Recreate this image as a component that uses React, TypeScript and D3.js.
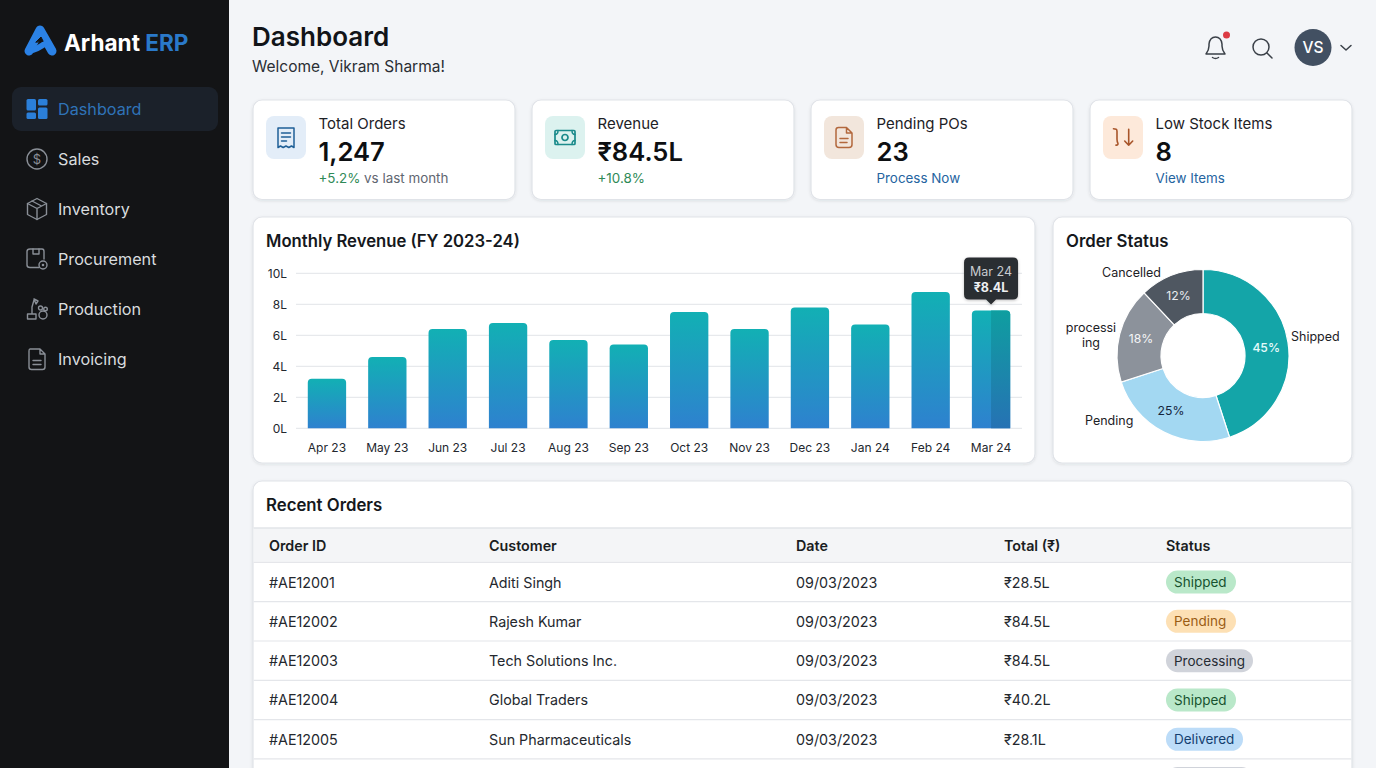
import { useEffect, useRef } from 'react';
import * as d3 from 'd3';

// sidebar
const navItems = ['Dashboard', 'Sales', 'Inventory', 'Procurement', 'Production', 'Invoicing'];

// kpi cards
const kpiLabels = ['Total Orders', 'Revenue', 'Pending POs', 'Low Stock Items'];
const kpiValues = ['1,247', '₹84.5L', '23', '8'];
const kpiNotes = ['+5.2%', '+10.8%', 'Process Now', 'View Items'];

// monthly revenue, in lakh
const months = ['Apr 23', 'May 23', 'Jun 23', 'Jul 23', 'Aug 23', 'Sep 23', 'Oct 23', 'Nov 23', 'Dec 23', 'Jan 24', 'Feb 24', 'Mar 24'];
const revenue = [3.2, 4.6, 6.4, 6.8, 5.7, 5.4, 7.5, 6.4, 7.8, 6.7, 8.8, 7.6];
const revenueTicks = [0, 2, 4, 6, 8, 10];

// order status
const statusNames = ['Shipped', 'Pending', 'processing', 'Cancelled'];
const statusShares = [45, 25, 18, 12];
const processingLines = ['processi', 'ing']; // wrapped this way in the original

// recent orders
const tableColumns = ['Order ID', 'Customer', 'Date', 'Total (₹)', 'Status'];
const orderIds = ['#AE12001', '#AE12002', '#AE12003', '#AE12004', '#AE12005'];
const orderCustomers = ['Aditi Singh', 'Rajesh Kumar', 'Tech Solutions Inc.', 'Global Traders', 'Sun Pharmaceuticals'];
const orderDates = ['09/03/2023', '09/03/2023', '09/03/2023', '09/03/2023', '09/03/2023'];
const orderTotals = ['₹28.5L', '₹84.5L', '₹84.5L', '₹40.2L', '₹28.1L'];
const orderStatus = ['Shipped', 'Pending', 'Processing', 'Shipped', 'Delivered'];
const nextRowStatus = 'Processing'; // only the top of this badge shows at the page edge

const FONT = 'Inter, "Noto Sans", sans-serif';

const badgeStyle: Record<string, { bg: string; fg: string; w: number }> = {
  Shipped: { bg: '#b9e8c9', fg: '#17532f', w: 70 },
  Pending: { bg: '#fde0b4', fg: '#9a5c14', w: 70 },
  Processing: { bg: '#d0d3da', fg: '#262b33', w: 87 },
  Delivered: { bg: '#bcdcf8', fg: '#143f70', w: 77 },
};

function Card({ x, y, w, h }: { x: number; y: number; w: number; h: number }) {
  return <rect x={x} y={y} width={w} height={h} rx={9} fill="#fff" stroke="#e0e3e8" strokeWidth={1.2} filter="url(#cardShadow)" />;
}

function NavIcon({ index, y }: { index: number; y: number }) {
  const c = '#8a8f97';
  const common = { fill: 'none', stroke: c, strokeWidth: 1.4, strokeLinecap: 'round' as const, strokeLinejoin: 'round' as const };
  const t = `translate(37,${y})`;
  if (index === 0) {
    return (
      <g transform={t} fill="#2b7fd9">
        <rect x={-10.5} y={-10} width={9.5} height={11.5} rx={1.5} />
        <rect x={-10.5} y={3.5} width={9.5} height={6.5} rx={1.5} />
        <rect x={1} y={-10} width={9.5} height={6.5} rx={1.5} />
        <rect x={1} y={-1.5} width={9.5} height={11.5} rx={1.5} />
      </g>
    );
  }
  if (index === 1) {
    return (
      <g transform={t}>
        <circle r={10} {...common} />
        <text textAnchor="middle" y={4.5} fontSize={13} fill={c} fontFamily={FONT}>$</text>
      </g>
    );
  }
  if (index === 2) {
    return (
      <g transform={t} {...common}>
        <path d="M0,-10.5 L9.5,-5.5 L9.5,5.5 L0,10.5 L-9.5,5.5 L-9.5,-5.5 Z" />
        <path d="M-9.5,-5.5 L0,-0.5 L9.5,-5.5 M0,-0.5 L0,10.5 M-5,-8 L4.5,-3" />
      </g>
    );
  }
  if (index === 3) {
    return (
      <g transform={t} {...common}>
        <path d="M2,8.5 L-7,8.5 Q-10,8.5 -10,6 L-10,-7.5 Q-10,-10 -7,-10 L5,-10 Q7,-10 7,-7.5 L7,0" />
        <path d="M-4,-10 L-4,-5 L2,-5 L2,-10" />
        <circle cx={6} cy={6} r={4} />
        <circle cx={6} cy={6} r={0.6} />
      </g>
    );
  }
  if (index === 4) {
    return (
      <g transform={t} {...common}>
        <path d="M-9.5,10 L-1,10 L-1,5 L-9.5,5 Z M-5,5 L-5,-2 L-3,-9 M-3,-10 L1,-8 L-1,-5 Z" />
        <circle cx={6} cy={6} r={4} />
        <circle cx={3.5} cy={-1} r={2} />
        <circle cx={8.5} cy={0} r={1.8} />
      </g>
    );
  }
  return (
    <g transform={t} {...common}>
      <path d="M-7,-10 L3,-10 L8,-5 L8,8 Q8,10.5 5.5,10.5 L-5.5,10.5 Q-8,10.5 -8,8 L-8,-8 Q-8,-10 -7,-10 Z M3,-10 L3,-5 L8,-5" />
      <path d="M-4,1.5 L4,1.5 M-4,5.5 L4,5.5" />
    </g>
  );
}

function KpiIcon({ index }: { index: number }) {
  const common = { fill: 'none', strokeWidth: 1.5, strokeLinecap: 'round' as const, strokeLinejoin: 'round' as const };
  if (index === 0) {
    return (
      <g {...common} stroke="#1f5f96">
        <path d="M-8,-9.5 L8,-9.5 L8,10 L5.5,8.5 L2.8,10 L0,8.5 L-2.8,10 L-5.5,8.5 L-8,10 Z" />
        <path d="M-4.5,-4.5 L4.5,-4.5 M-4.5,-0.5 L4.5,-0.5 M-4.5,3.5 L0.5,3.5" />
      </g>
    );
  }
  if (index === 1) {
    return (
      <g {...common} stroke="#1b8b8b">
        <rect x={-10} y={-7} width={20} height={14} rx={1} strokeWidth={1.7} />
        <circle r={3} strokeWidth={1.7} />
        <path d="M-10,-3 Q-7,-3 -7,-7 M10,-3 Q7,-3 7,-7 M-10,3 Q-7,3 -7,7 M10,3 Q7,3 7,7" />
      </g>
    );
  }
  if (index === 2) {
    return (
      <g {...common} stroke="#b3683d">
        <path d="M-5.5,-10 L2.5,-10 L8,-4.5 L8,7 Q8,10 5,10 L-5,10 Q-8,10 -8,7 L-8,-7.5 Q-8,-10 -5.5,-10 Z M2.5,-10 L2.5,-4.5 L8,-4.5" />
        <path d="M-4,1 L4,1 M-4,5 L3,5" />
      </g>
    );
  }
  return (
    <g {...common} stroke="#a8552a" strokeWidth={1.6}>
      <path d="M-9.5,-8.8 L-6.8,-8.3 Q-6,-8 -6,-6 L-6,1.7 Q-6,4 -5,6 Q-5,8 -7,7.6" />
      <path d="M5.7,-8.3 L5.7,7.7 M1.7,3.5 L5.7,7.7 L9.7,3.5" />
    </g>
  );
}

export default function App() {
  const yAxisRef = useRef<SVGGElement>(null);
  const xAxisRef = useRef<SVGGElement>(null);

  const x = d3.scaleBand<string>().domain(months).range([296.8, 1021.2]).paddingInner(0.365).paddingOuter(0.182);
  const y = d3.scaleLinear().domain([0, 10]).range([428.3, 273.3]);

  const pie = d3.pie<number>().sort(null).value(d => d);
  const arcs = pie(statusShares);
  const arc = d3.arc<d3.PieArcDatum<number>>().innerRadius(42).outerRadius(86);
  const sliceColors = ['#14a5a8', 'url(#pendingFill)', 'url(#processingFill)', 'url(#cancelledFill)'];
  const shareColors = ['#e4fbfb', '#14263c', '#f5f6f8', '#e9ecef'];
  const shareNudge = [[0, 2], [-3, -2], [0, -1], [-1, -1]];

  const navY = d3.scalePoint<string>().domain(navItems).range([109, 359]);
  const kpiX = d3.scalePoint<string>().domain(kpiLabels).range([253, 1090]);
  const rowY = d3.scaleBand<string>().domain(orderIds).range([562.4, 758.9]);
  const colX = d3.scaleOrdinal<string, number>().domain(tableColumns).range([269, 489, 796, 1004, 1166]);

  useEffect(() => {
    const yAxis = d3.select(yAxisRef.current!);
    yAxis.call(d3.axisLeft(y).tickValues(revenueTicks).tickSize(0).tickPadding(0).tickFormat(d => `${d}L`) as any);
    yAxis.select('.domain').remove();
    yAxis.selectAll('text').attr('x', -10).attr('font-size', 12).attr('font-family', FONT).attr('fill', '#23272e');

    const xAxis = d3.select(xAxisRef.current!);
    xAxis.call(d3.axisBottom(x).tickSize(0).tickPadding(0) as any);
    xAxis.select('.domain').remove();
    xAxis.selectAll('text').attr('y', 9).attr('font-size', 12).attr('font-family', FONT).attr('fill', '#23272e');
  }, []);

  const lastMonth = months[months.length - 1];
  const lastX = x(lastMonth)!;
  const lastTop = y(revenue[revenue.length - 1]);
  const band = x.bandwidth();
  const kpiBoxFill = ['#e3edf8', '#dcf2ef', '#f2e6dc', '#fde9da'];
  const statusX = colX(tableColumns[4]);
  const nextMid = 758.9 + rowY.bandwidth() / 2;

  return (
    <svg width={1376} height={768} viewBox="0 0 1376 768" fontFamily={FONT}
      style={{ position: 'fixed', left: 0, top: 0, display: 'block' }}>
      <defs>
        <linearGradient id="barFill" x1="0" y1="0" x2="0" y2="1">
          <stop offset="0" stopColor="#12b0b4" />
          <stop offset="1" stopColor="#2e81cf" />
        </linearGradient>
        <linearGradient id="barFillDark" x1="0" y1="0" x2="0" y2="1">
          <stop offset="0" stopColor="#0f9ea0" />
          <stop offset="1" stopColor="#2672b4" />
        </linearGradient>
        <linearGradient id="pendingFill" gradientUnits="userSpaceOnUse" x1="1130" y1="400" x2="1220" y2="440">
          <stop offset="0" stopColor="#a3d8f2" />
          <stop offset="1" stopColor="#8ecdf0" />
        </linearGradient>
        <linearGradient id="processingFill" gradientUnits="userSpaceOnUse" x1="1150" y1="290" x2="1130" y2="380">
          <stop offset="0" stopColor="#8c929b" />
          <stop offset="1" stopColor="#767d87" />
        </linearGradient>
        <linearGradient id="cancelledFill" gradientUnits="userSpaceOnUse" x1="1160" y1="270" x2="1200" y2="320">
          <stop offset="0" stopColor="#4f5761" />
          <stop offset="1" stopColor="#565e68" />
        </linearGradient>
        <filter id="cardShadow" x="-5%" y="-10%" width="110%" height="125%">
          <feDropShadow dx="0" dy="1" stdDeviation="1.5" floodColor="#1c2533" floodOpacity="0.1" />
        </filter>
        <filter id="tipShadow" x="-20%" y="-20%" width="140%" height="150%">
          <feDropShadow dx="0" dy="1" stdDeviation="1.5" floodColor="#000" floodOpacity="0.25" />
        </filter>
        <clipPath id="tableClip">
          <rect x={253} y={481} width={1099} height={287} />
        </clipPath>
      </defs>

      <rect width={1376} height={768} fill="#f3f5f8" />

      {/* sidebar */}
      <rect width={229} height={768} fill="#131416" />
      <rect x={12} y={87} width={206} height={44} rx={9} fill="#1b212a" />
      <g fill="none" strokeLinecap="round" strokeLinejoin="round">
        <path d="M29,51 L40,30 L52,51" stroke="#2b82e6" strokeWidth={9} />
        <path d="M29,51 Q37,50 47,42" stroke="#2b82e6" strokeWidth={6} />
        <path d="M36,42 L41,37 L43,41 Z" fill="#131416" stroke="#131416" strokeWidth={1} />
      </g>
      <text x={64} y={50.5} fontSize={22.6} fontWeight={700} fill="#fff">Arhant <tspan fill="#2a79c9">ERP</tspan></text>
      {navItems.map((d, i) => (
        <g key={d}>
          <NavIcon index={i} y={navY(d)!} />
          <text x={58} y={navY(d)! + 6} fontSize={16.2} fill={i === 0 ? '#2f73b8' : '#d9dcdf'}>{d}</text>
        </g>
      ))}

      {/* header */}
      <text x={252} y={46} fontSize={26} fontWeight={600} fill="#111418">Dashboard</text>
      <text x={252} y={72} fontSize={15.5} fill="#2a2e34">Welcome, Vikram Sharma!</text>
      <g fill="none" stroke="#3a4048" strokeWidth={1.5} strokeLinecap="round" strokeLinejoin="round">
        <path d="M1206,54 L1225,54 Q1222,50 1222,46 L1222,44 Q1221,37 1215.5,37 Q1210,37 1209,44 L1209,46 Q1209,50 1206,54 Z" />
        <path d="M1212.5,57.5 Q1215.5,59.5 1218.5,57.5" />
        <circle cx={1261} cy={47} r={8} />
        <path d="M1267,53 L1272,58" />
        <path d="M1341,45.5 L1346,50 L1351,45.5" />
      </g>
      <circle cx={1226.5} cy={35} r={3.5} fill="#dc3b44" />
      <circle cx={1313} cy={47.5} r={18.5} fill="#425062" />
      <text x={1313} y={53} textAnchor="middle" fontSize={15.5} fontWeight={500} fill="#fff">VS</text>

      {/* kpi cards */}
      {kpiLabels.map((d, i) => {
        const cx = kpiX(d)!;
        return (
          <g key={d}>
            <Card x={cx} y={100} w={262} h={99.5} />
            <rect x={cx + 13} y={116} width={40} height={43} rx={8} fill={kpiBoxFill[i]} />
            <g transform={`translate(${cx + 33},137.5)`}><KpiIcon index={i} /></g>
            <text x={cx + 65.5} y={129} fontSize={15} fill="#1d2126">{d}</text>
            <text x={cx + 65.5} y={161} fontSize={25.6} fontWeight={600} fill="#0d0f12">{kpiValues[i]}</text>
            <text x={cx + 65.5} y={183} fontSize={13.4} fill={i < 2 ? '#2f8a57' : '#25649f'}>
              {kpiNotes[i]}
              {i === 0 && <tspan fill="#5f6670"> vs last month</tspan>}
            </text>
          </g>
        );
      })}

      {/* monthly revenue */}
      <Card x={253} y={217} w={782} h={246} />
      <text x={266} y={247} fontSize={16.7} fontWeight={600} fill="#15181c">Monthly Revenue (FY 2023-24)</text>
      {revenueTicks.map(t => (
        <line key={t} x1={296} x2={1022} y1={y(t)} y2={y(t)} stroke="#e2e4e8" strokeWidth={1} />
      ))}
      <g ref={yAxisRef} transform="translate(297,0)" />
      <g ref={xAxisRef} transform="translate(0,434)" />
      {months.map((m, i) => {
        const top = y(revenue[i]);
        const base = y(0);
        const bx = x(m)!;
        return (
          <path key={m}
            d={`M${bx},${base} L${bx},${top + 4} Q${bx},${top} ${bx + 4},${top} L${bx + band - 4},${top} Q${bx + band},${top} ${bx + band},${top + 4} L${bx + band},${base} Z`}
            fill="url(#barFill)" />
        );
      })}
      <path
        d={`M${lastX + band / 2},${y(0)} L${lastX + band / 2},${lastTop} L${lastX + band - 4},${lastTop} Q${lastX + band},${lastTop} ${lastX + band},${lastTop + 4} L${lastX + band},${y(0)} Z`}
        fill="url(#barFillDark)" />
      <g transform={`translate(${lastX + band / 2},${lastTop})`}>
        <path d="M-22,-53 L22,-53 Q27,-53 27,-48 L27,-16 Q27,-11 22,-11 L5,-11 L0,-6 L-5,-11 L-22,-11 Q-27,-11 -27,-16 L-27,-48 Q-27,-53 -22,-53 Z"
          fill="#2b2e31" filter="url(#tipShadow)" />
        <text y={-35} textAnchor="middle" fontSize={12.5} fill="#c8cbcf">{lastMonth}</text>
        <text y={-19} textAnchor="middle" fontSize={12.5} fontWeight={700} fill="#eef0f2">₹8.4L</text>
      </g>

      {/* order status */}
      <Card x={1053} y={217} w={299} h={246} />
      <text x={1066} y={247} fontSize={16.8} fontWeight={600} fill="#15181c">Order Status</text>
      <g transform="translate(1203,355.5)">
        {arcs.map((a, i) => (
          <path key={statusNames[i]} d={arc(a)!} fill={sliceColors[i]} stroke="#fff" strokeWidth={1.2} />
        ))}
        {arcs.map((a, i) => {
          const [cx, cy] = arc.centroid(a);
          return (
            <text key={statusNames[i]} x={cx + shareNudge[i][0]} y={cy + 4.5 + shareNudge[i][1]} textAnchor="middle" fontSize={12.2}
              fontWeight={i === 0 ? 500 : 400} fill={shareColors[i]}>{a.data}%</text>
          );
        })}
      </g>
      <g fontSize={12.5} fill="#1d2126">
        <text x={1291} y={341}>{statusNames[0]}</text>
        <text x={1085} y={424.5}>{statusNames[1]}</text>
        <text x={1091} y={331.5} textAnchor="middle">{processingLines[0]}</text>
        <text x={1091} y={346.5} textAnchor="middle">{processingLines[1]}</text>
        <text x={1102} y={276.5}>{statusNames[3]}</text>
      </g>

      {/* recent orders */}
      <Card x={253} y={481} w={1099} h={320} />
      <text x={266} y={510.5} fontSize={16.8} fontWeight={600} fill="#15181c">Recent Orders</text>
      <g clipPath="url(#tableClip)">
        <rect x={253.6} y={528} width={1098} height={34.4} fill="#f4f5f7" />
        <line x1={253.6} x2={1351.4} y1={528} y2={528} stroke="#e2e4e8" strokeWidth={1.4} />
        <line x1={253.6} x2={1351.4} y1={562.4} y2={562.4} stroke="#e2e4e8" />
        {tableColumns.map(c => (
          <text key={c} x={colX(c)} y={550.5} fontSize={14.3} fontWeight={600} fill="#1a1d22">{c}</text>
        ))}
        {orderIds.map((id, i) => {
          const top = rowY(id)!;
          const mid = top + rowY.bandwidth() / 2;
          const badge = badgeStyle[orderStatus[i]];
          return (
            <g key={id} fontSize={14.3} fill="#24282e">
              <text x={colX(tableColumns[0])} y={mid + 5.5}>{id}</text>
              <text x={colX(tableColumns[1])} y={mid + 5.5}>{orderCustomers[i]}</text>
              <text x={colX(tableColumns[2])} y={mid + 5.5}>{orderDates[i]}</text>
              <text x={colX(tableColumns[3])} y={mid + 5.5}>{orderTotals[i]}</text>
              <rect x={statusX} y={mid - 11.5} width={badge.w} height={23} rx={11.5} fill={badge.bg} />
              <text x={statusX + 8} y={mid + 5} fontSize={13.5} fill={badge.fg}>{orderStatus[i]}</text>
              <line x1={253.6} x2={1351.4} y1={top + rowY.bandwidth()} y2={top + rowY.bandwidth()} stroke="#e4e6ea" strokeWidth={1.2} />
            </g>
          );
        })}
        <rect x={statusX} y={nextMid - 11.5} width={badgeStyle[nextRowStatus].w} height={23} rx={11.5} fill={badgeStyle[nextRowStatus].bg} />
      </g>
    </svg>
  );
}
